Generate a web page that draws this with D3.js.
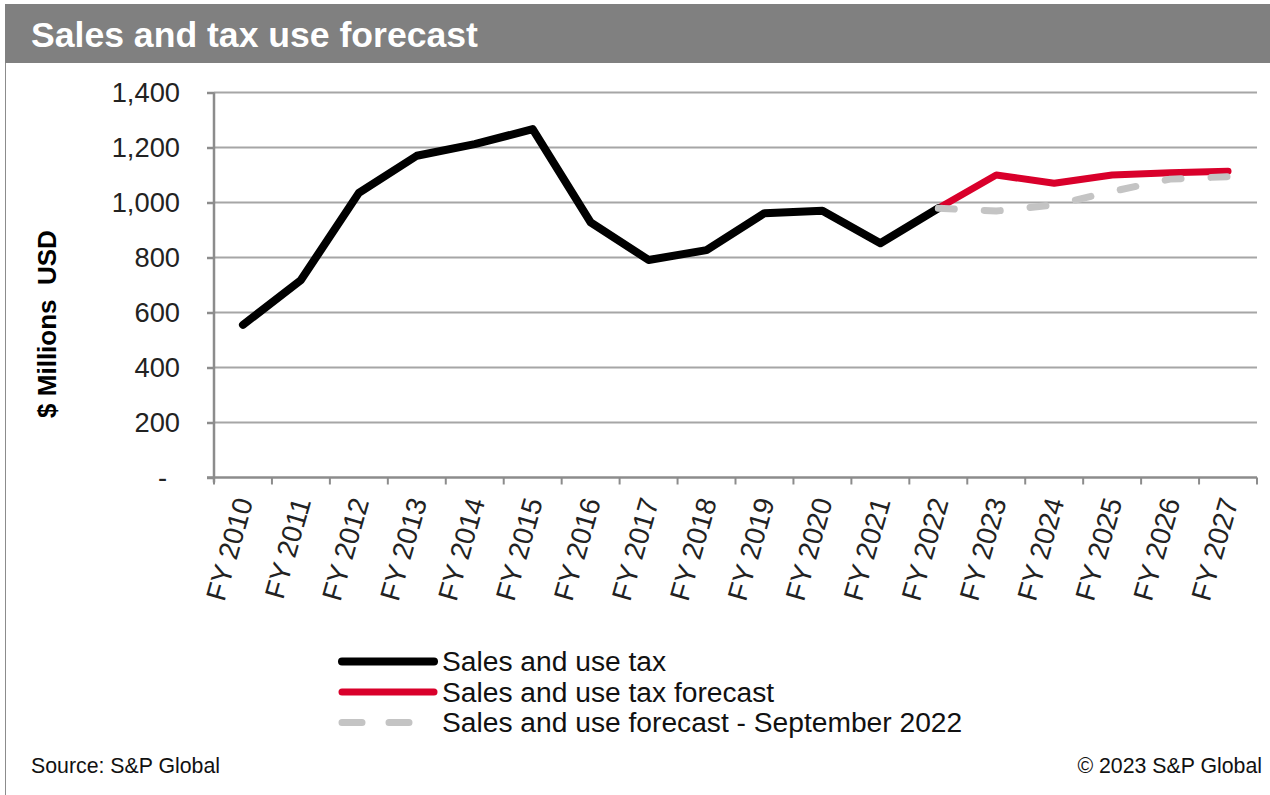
<!DOCTYPE html>
<html>
<head>
<meta charset="utf-8">
<script src="https://cdn.jsdelivr.net/npm/d3@7"></script>
<style>
  html, body { margin: 0; padding: 0; background: #fff; }
  svg { display: block; font-family: "Liberation Sans", Arial, sans-serif; }
</style>
</head>
<body>
<svg id="chart" width="1270" height="795"></svg>
<script>
// Fiscal years on the category axis
const years = ["FY 2010","FY 2011","FY 2012","FY 2013","FY 2014","FY 2015","FY 2016","FY 2017","FY 2018",
               "FY 2019","FY 2020","FY 2021","FY 2022","FY 2023","FY 2024","FY 2025","FY 2026","FY 2027"];

// Actual sales and use tax collections ($ millions)
const actualYears = ["FY 2010","FY 2011","FY 2012","FY 2013","FY 2014","FY 2015","FY 2016","FY 2017","FY 2018",
                     "FY 2019","FY 2020","FY 2021","FY 2022"];
const actualValues = [555, 718, 1035, 1170, 1212, 1267, 928, 791, 827, 961, 970, 852, 979];

// Current forecast
const forecastYears = ["FY 2022","FY 2023","FY 2024","FY 2025","FY 2026","FY 2027"];
const forecastValues = [979, 1100, 1070, 1100, 1108, 1114];

// Previous forecast (September 2022)
const priorValues = [979, 969, 991, 1040, 1085, 1094];

// Y axis ticks
const yTicks = [0, 200, 400, 600, 800, 1000, 1200, 1400];

const legendItems = [
  { label: "Sales and use tax", key: "actual" },
  { label: "Sales and use tax forecast", key: "forecast" },
  { label: "Sales and use forecast - September 2022", key: "prior" }
];

const styles = {
  actual:   { color: "#000000", width: 8, dash: null },
  forecast: { color: "#d9002b", width: 7, dash: null },
  prior:    { color: "#c4c4c4", width: 7, dash: "16,30" }
};

const svg = d3.select("#chart");
const W = 1270, H = 795;
const plot = { left: 214, right: 1257, top: 92.5, bottom: 477.5 };

// Frame and title banner
svg.append("rect").attr("x", 0).attr("y", 0).attr("width", W).attr("height", H).attr("fill", "#fff");
svg.append("line").attr("x1", 5.5).attr("x2", 5.5).attr("y1", 4).attr("y2", H)
  .attr("stroke", "#8c8c8c").attr("stroke-width", 1);
svg.append("rect").attr("x", 5).attr("y", 4).attr("width", W - 5).attr("height", 59).attr("fill", "#808080");
svg.append("text").attr("x", 31).attr("y", 47)
  .attr("fill", "#fff").attr("font-size", 35.6).attr("font-weight", "bold")
  .text("Sales and tax use forecast");

const x = d3.scaleBand().domain(years).range([plot.left, plot.right]).paddingInner(0).paddingOuter(0);
const y = d3.scaleLinear().domain([0, 1400]).range([plot.bottom, plot.top]);
const cx = d => x(d) + x.bandwidth() / 2;

// Horizontal gridlines
svg.append("g").selectAll("line").data(yTicks.filter(v => v > 0)).join("line")
  .attr("x1", plot.left).attr("x2", plot.right)
  .attr("y1", d => y(d)).attr("y2", d => y(d))
  .attr("stroke", "#a6a6a6").attr("stroke-width", 2);

// Y axis
const yAxis = svg.append("g").attr("transform", `translate(${plot.left},0)`)
  .call(d3.axisLeft(y).tickValues(yTicks).tickSize(7).tickPadding(27)
    .tickFormat(d => d === 0 ? "-" : d3.format(",")(d)));
yAxis.select(".domain").attr("stroke", "#8c8c8c").attr("stroke-width", 2.5)
  .attr("d", `M0,${plot.top}V${plot.bottom + 5}`);
yAxis.selectAll(".tick line").attr("stroke", "#8c8c8c").attr("stroke-width", 2.5);
yAxis.selectAll(".tick text").attr("font-size", 27.3).attr("fill", "#222")
  .attr("font-family", "'Liberation Sans', Arial, sans-serif");
yAxis.selectAll(".tick text").filter(d => d === 0).attr("dx", -13);

// X axis with boundary ticks between categories
const xAxisG = svg.append("g");
xAxisG.append("line").attr("x1", plot.left - 7).attr("x2", plot.right)
  .attr("y1", plot.bottom).attr("y2", plot.bottom)
  .attr("stroke", "#8c8c8c").attr("stroke-width", 2.5);
const boundaries = years.map(d => x(d)).concat([plot.right]);
xAxisG.selectAll("line.b").data(boundaries).join("line").attr("class", "b")
  .attr("x1", d => d).attr("x2", d => d)
  .attr("y1", plot.bottom).attr("y2", plot.bottom + 7)
  .attr("stroke", "#8c8c8c").attr("stroke-width", 2);
xAxisG.selectAll("text").data(years).join("text")
  .attr("transform", d => `translate(${cx(d) + 1},${plot.bottom + 21}) rotate(-74)`)
  .attr("text-anchor", "end").attr("dy", "0.35em")
  .attr("font-size", 28).attr("fill", "#222")
  .text(d => d);

// Y axis title
svg.append("text")
  .attr("transform", `translate(47,324) rotate(-90)`)
  .attr("text-anchor", "middle").attr("dy", "0.35em")
  .style("white-space", "pre")
  .attr("font-size", 26).attr("font-weight", "bold").attr("fill", "#000")
  .text("$ Millions  USD");

// Series lines
const line = d3.line().x(d => cx(d[0])).y(d => y(d[1]));
function drawSeries(keys, vals, st) {
  const p = svg.append("path").datum(keys.map((k, i) => [k, vals[i]]))
    .attr("d", line).attr("fill", "none")
    .attr("stroke", st.color).attr("stroke-width", st.width)
    .attr("stroke-linejoin", "round").attr("stroke-linecap", "round");
  if (st.dash) p.attr("stroke-dasharray", st.dash);
}
drawSeries(forecastYears, forecastValues, styles.forecast);
drawSeries(actualYears, actualValues, styles.actual);
drawSeries(forecastYears, priorValues, styles.prior);

// Legend
const lg = svg.append("g");
legendItems.forEach((item, i) => {
  const st = styles[item.key];
  const ly = 661.5 + i * 30.5;
  const l = lg.append("line").attr("x1", 342).attr("x2", 434).attr("y1", ly).attr("y2", ly)
    .attr("stroke", st.color).attr("stroke-width", st.width).attr("stroke-linecap", "round");
  if (st.dash) l.attr("stroke-dasharray", "20,27");
  lg.append("text").attr("x", 442).attr("y", ly).attr("dy", "0.35em")
    .attr("font-size", 28.2).attr("fill", "#111").text(item.label);
});

// Footer
svg.append("text").attr("x", 31).attr("y", 773).attr("font-size", 21.3).attr("fill", "#111")
  .text("Source: S&P Global");
svg.append("text").attr("x", 1262).attr("y", 773).attr("text-anchor", "end")
  .attr("font-size", 21.3).attr("fill", "#111").text("© 2023 S&P Global");
</script>
</body>
</html>
